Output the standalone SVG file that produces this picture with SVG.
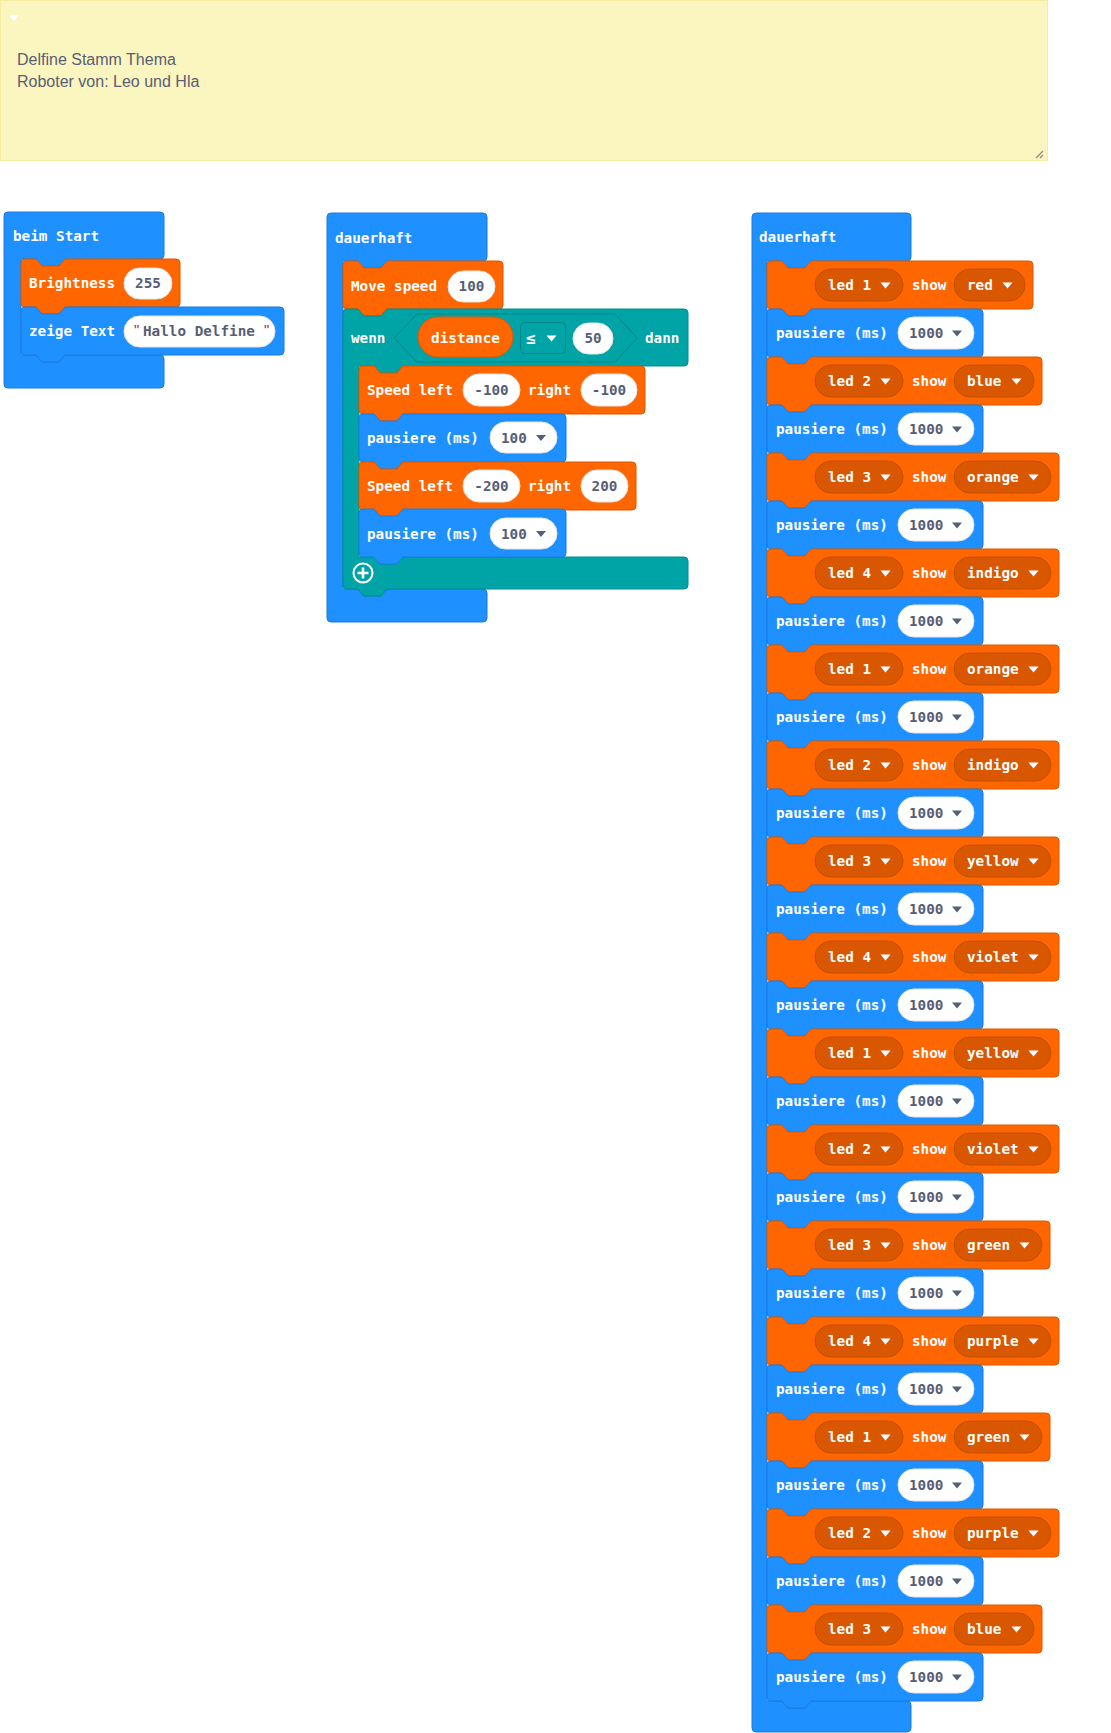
<svg xmlns="http://www.w3.org/2000/svg" xmlns:xlink="http://www.w3.org/1999/xlink" width="1111" height="1733" viewBox="0 0 1111 1733">
<style>
.b{fill:#1E90FF;stroke:#1A7BE0;stroke-width:1}
.o{fill:#FF6600;stroke:#DB5800;stroke-width:1}
.t{fill:#00A4A6;stroke:#008C8E;stroke-width:1}
.dd{fill:#D95700;stroke:#C24E00;stroke-width:1}
.wp{fill:#FFFFFF;stroke:#E4E4E4;stroke-width:1}
.l{font-family:"DejaVu Sans Mono","Liberation Mono",monospace;font-weight:bold;font-size:14.3px;fill:#FFFFFF}
.v{font-family:"DejaVu Sans Mono","Liberation Mono",monospace;font-weight:bold;font-size:14.3px;fill:#575E75}
.c{text-anchor:middle}
.q{font-family:"Liberation Sans",sans-serif;font-size:15px;fill:#A3311E}
.cm{font-family:"Liberation Sans",Arial,sans-serif;font-size:16px;fill:#575E75}
</style>
<defs>
<path id="arr" d="M0,0 h10 l-5,6 z"/>
<path id="s266" d="M0,4 Q0,0 4,0 H15 L21,7 H38 L44,0 H262 Q266,0 266,4 V44 Q266,48 262,48 H44 L38,55 H21 L15,48 H4 Q0,48 0,44 Z"/>
<path id="s275" d="M0,4 Q0,0 4,0 H15 L21,7 H38 L44,0 H271 Q275,0 275,4 V44 Q275,48 271,48 H44 L38,55 H21 L15,48 H4 Q0,48 0,44 Z"/>
<path id="s283" d="M0,4 Q0,0 4,0 H15 L21,7 H38 L44,0 H279 Q283,0 283,4 V44 Q283,48 279,48 H44 L38,55 H21 L15,48 H4 Q0,48 0,44 Z"/>
<path id="s292" d="M0,4 Q0,0 4,0 H15 L21,7 H38 L44,0 H288 Q292,0 292,4 V44 Q292,48 288,48 H44 L38,55 H21 L15,48 H4 Q0,48 0,44 Z"/>
<path id="s216" d="M0,4 Q0,0 4,0 H15 L21,7 H38 L44,0 H212 Q216,0 216,4 V44 Q216,48 212,48 H44 L38,55 H21 L15,48 H4 Q0,48 0,44 Z"/>
<path id="s160" d="M0,4 Q0,0 4,0 H15 L21,7 H38 L44,0 H156 Q160,0 160,4 V44 Q160,48 156,48 H44 L38,55 H21 L15,48 H4 Q0,48 0,44 Z"/>
<path id="s286" d="M0,4 Q0,0 4,0 H15 L21,7 H38 L44,0 H282 Q286,0 286,4 V44 Q286,48 282,48 H44 L38,55 H21 L15,48 H4 Q0,48 0,44 Z"/>
<path id="s277" d="M0,4 Q0,0 4,0 H15 L21,7 H38 L44,0 H273 Q277,0 277,4 V44 Q277,48 273,48 H44 L38,55 H21 L15,48 H4 Q0,48 0,44 Z"/>
<path id="s207" d="M0,4 Q0,0 4,0 H15 L21,7 H38 L44,0 H203 Q207,0 207,4 V44 Q207,48 203,48 H44 L38,55 H21 L15,48 H4 Q0,48 0,44 Z"/>
<path id="s159" d="M0,4 Q0,0 4,0 H15 L21,7 H38 L44,0 H155 Q159,0 159,4 V44 Q159,48 155,48 H44 L38,55 H21 L15,48 H4 Q0,48 0,44 Z"/>
<path id="s263" d="M0,4 Q0,0 4,0 H15 L21,7 H38 L44,0 H259 Q263,0 263,4 V44 Q263,48 259,48 H44 L38,55 H21 L15,48 H4 Q0,48 0,44 Z"/>
</defs>

<g id="comment">
<rect x="0.5" y="0.5" width="1047" height="160" fill="#FBF6BF" stroke="#F6EC9E"/>
<path d="M9,15 H19 L14,21 Z" fill="#FFFFFF"/>
<text x="17" y="65" class="cm">Delfine Stamm Thema</text>
<text x="17" y="87" class="cm">Roboter von: Leo und Hla</text>
<path d="M1036,158 L1043,151 M1040,158 L1043,155" stroke="#8A8A8A" stroke-width="1.2" fill="none"/>
</g>

<g id="connectors"></g>

<g id="beim-start">
<path class="b" d="M4,216 Q4,212 8,212 H160 Q164,212 164,216 V255 Q164,259 160,259 H65 L59,266 H42 L36,259 H21 V355 H36 L42,362 H59 L65,355 H160 Q164,355 164,359 V384 Q164,388 160,388 H8 Q4,388 4,384 Z"/>
<text x="13" y="241" class="l">beim Start</text>
</g>
<g id="brightness" transform="translate(21,259)">
<use href="#s159" class="o"/>
<text x="8" y="29" class="l">Brightness</text>
<rect x="103" y="9" width="48" height="31" rx="15.5" class="wp"/>
<text x="127" y="29" class="v c">255</text>
</g>
<g id="zeige-text" transform="translate(21,307)">
<use href="#s263" class="b"/>
<text x="8" y="29" class="l">zeige Text</text>
<rect x="103" y="9" width="151" height="31" rx="15.5" class="wp"/>
<text x="113" y="28" class="q">"</text>
<text x="122" y="29" class="v">Hallo Delfine</text>
<text x="243" y="28" class="q">"</text>
</g>

<g id="dauerhaft-1">
<path class="b" d="M327,217 Q327,213 331,213 H483 Q487,213 487,217 V257 Q487,261 483,261 H387 L381,268 H364 L358,261 H343 V589 H358 L364,596 H381 L387,589 H483 Q487,589 487,593 V618 Q487,622 483,622 H331 Q327,622 327,618 Z"/>
<text x="335" y="243" class="l">dauerhaft</text>
</g>
<g id="move-speed" transform="translate(343,261)">
<use href="#s160" class="o"/>
<text x="8" y="30" class="l">Move speed</text>
<rect x="105" y="10" width="47" height="31" rx="15.5" class="wp"/>
<text x="128.5" y="30" class="v c">100</text>
</g>
<g id="wenn">
<path class="t" d="M343,313 Q343,309 347,309 H358 L364,316 H381 L387,309 H684 Q688,309 688,313 V362 Q688,366 684,366 H403 L397,373 H380 L374,366 H359 V557 H374 L380,564 H397 L403,557 H684 Q688,557 688,561 V585 Q688,589 684,589 H387 L381,596 H364 L358,589 H347 Q343,589 343,585 Z"/>
<text x="351" y="343" class="l">wenn</text>
<path d="M394,338 L417,314 H615 L637,338 L615,362 H417 Z" fill="#00A4A6" stroke="#008385" stroke-width="1"/>
<rect x="418" y="317" width="95" height="40" rx="20" class="o"/>
<text x="465.5" y="343" class="l c">distance</text>
<rect x="520.5" y="322.5" width="45" height="31" rx="4" fill="#00A4A6" stroke="#008385"/>
<text x="526" y="344" class="l" style="font-size:16px">≤</text>
<use href="#arr" x="546.5" y="335.5" fill="#FFFFFF"/>
<rect x="573" y="323" width="40" height="31" rx="15.5" class="wp"/>
<text x="593" y="343" class="v c">50</text>
<text x="645" y="343" class="l">dann</text>
<circle cx="363" cy="573" r="9.5" fill="none" stroke="#FFFFFF" stroke-width="2"/>
<path d="M357.5,573 H368.5 M363,567.5 V578.5" stroke="#FFFFFF" stroke-width="2.6"/>
</g>
<g id="speed-1" transform="translate(359,366)">
<use href="#s286" class="o"/>
<text x="8" y="29" class="l">Speed left</text>
<rect x="104" y="8" width="57" height="32" rx="16" class="wp"/>
<text x="132.5" y="29" class="v c">-100</text>
<text x="169" y="29" class="l">right</text>
<rect x="222" y="8" width="56" height="32" rx="16" class="wp"/>
<text x="250" y="29" class="v c">-100</text>
</g>
<g id="pause-m1" transform="translate(359,414)">
<use href="#s207" class="b"/>
<text x="8" y="29" class="l">pausiere (ms)</text>
<rect x="131" y="8" width="67" height="31" rx="15.5" class="wp"/>
<text x="142" y="29" class="v">100</text>
<use href="#arr" x="177" y="21" fill="#575E75"/>
</g>
<g id="speed-2" transform="translate(359,462)">
<use href="#s277" class="o"/>
<text x="8" y="29" class="l">Speed left</text>
<rect x="104" y="8" width="57" height="32" rx="16" class="wp"/>
<text x="132.5" y="29" class="v c">-200</text>
<text x="169" y="29" class="l">right</text>
<rect x="222" y="8" width="47" height="32" rx="16" class="wp"/>
<text x="245.5" y="29" class="v c">200</text>
</g>
<g id="pause-m2" transform="translate(359,509)">
<use href="#s207" class="b"/>
<text x="8" y="30" class="l">pausiere (ms)</text>
<rect x="131" y="9" width="67" height="31" rx="15.5" class="wp"/>
<text x="142" y="30" class="v">100</text>
<use href="#arr" x="177" y="22" fill="#575E75"/>
</g>

<g id="dauerhaft-2">
<path class="b" d="M752,217 Q752,213 756,213 H907 Q911,213 911,217 V257 Q911,261 907,261 H811 L805,268 H788 L782,261 H767 V1701 H782 L788,1708 H805 L811,1701 H907 Q911,1701 911,1705 V1728 Q911,1732 907,1732 H756 Q752,1732 752,1728 Z"/>
<text x="759" y="242" class="l">dauerhaft</text>
</g>

<g id="led-01" transform="translate(767,261)"><use href="#s266" class="o"/><rect x="48" y="8" width="88" height="32" rx="16" class="dd"/><text x="61" y="29" class="l">led 1</text><use href="#arr" x="113.5" y="21.5" fill="#FFFFFF"/><text x="145" y="29" class="l">show</text><rect x="187" y="8" width="71" height="32" rx="16" class="dd"/><text x="200" y="29" class="l">red</text><use href="#arr" x="235.5" y="21.5" fill="#FFFFFF"/></g>
<g id="pause-01" transform="translate(767,309)"><use href="#s216" class="b"/><text x="9" y="29" class="l">pausiere (ms)</text><rect x="131" y="8" width="76" height="32" rx="16" class="wp"/><text x="142" y="29" class="v">1000</text><use href="#arr" x="185" y="21.5" fill="#575E75"/></g>

<g id="led-02" transform="translate(767,357)"><use href="#s275" class="o"/><rect x="48" y="8" width="88" height="32" rx="16" class="dd"/><text x="61" y="29" class="l">led 2</text><use href="#arr" x="113.5" y="21.5" fill="#FFFFFF"/><text x="145" y="29" class="l">show</text><rect x="187" y="8" width="80" height="32" rx="16" class="dd"/><text x="200" y="29" class="l">blue</text><use href="#arr" x="244.5" y="21.5" fill="#FFFFFF"/></g>
<g id="pause-02" transform="translate(767,405)"><use href="#s216" class="b"/><text x="9" y="29" class="l">pausiere (ms)</text><rect x="131" y="8" width="76" height="32" rx="16" class="wp"/><text x="142" y="29" class="v">1000</text><use href="#arr" x="185" y="21.5" fill="#575E75"/></g>

<g id="led-03" transform="translate(767,453)"><use href="#s292" class="o"/><rect x="48" y="8" width="88" height="32" rx="16" class="dd"/><text x="61" y="29" class="l">led 3</text><use href="#arr" x="113.5" y="21.5" fill="#FFFFFF"/><text x="145" y="29" class="l">show</text><rect x="187" y="8" width="97" height="32" rx="16" class="dd"/><text x="200" y="29" class="l">orange</text><use href="#arr" x="261.5" y="21.5" fill="#FFFFFF"/></g>
<g id="pause-03" transform="translate(767,501)"><use href="#s216" class="b"/><text x="9" y="29" class="l">pausiere (ms)</text><rect x="131" y="8" width="76" height="32" rx="16" class="wp"/><text x="142" y="29" class="v">1000</text><use href="#arr" x="185" y="21.5" fill="#575E75"/></g>

<g id="led-04" transform="translate(767,549)"><use href="#s292" class="o"/><rect x="48" y="8" width="88" height="32" rx="16" class="dd"/><text x="61" y="29" class="l">led 4</text><use href="#arr" x="113.5" y="21.5" fill="#FFFFFF"/><text x="145" y="29" class="l">show</text><rect x="187" y="8" width="97" height="32" rx="16" class="dd"/><text x="200" y="29" class="l">indigo</text><use href="#arr" x="261.5" y="21.5" fill="#FFFFFF"/></g>
<g id="pause-04" transform="translate(767,597)"><use href="#s216" class="b"/><text x="9" y="29" class="l">pausiere (ms)</text><rect x="131" y="8" width="76" height="32" rx="16" class="wp"/><text x="142" y="29" class="v">1000</text><use href="#arr" x="185" y="21.5" fill="#575E75"/></g>

<g id="led-05" transform="translate(767,645)"><use href="#s292" class="o"/><rect x="48" y="8" width="88" height="32" rx="16" class="dd"/><text x="61" y="29" class="l">led 1</text><use href="#arr" x="113.5" y="21.5" fill="#FFFFFF"/><text x="145" y="29" class="l">show</text><rect x="187" y="8" width="97" height="32" rx="16" class="dd"/><text x="200" y="29" class="l">orange</text><use href="#arr" x="261.5" y="21.5" fill="#FFFFFF"/></g>
<g id="pause-05" transform="translate(767,693)"><use href="#s216" class="b"/><text x="9" y="29" class="l">pausiere (ms)</text><rect x="131" y="8" width="76" height="32" rx="16" class="wp"/><text x="142" y="29" class="v">1000</text><use href="#arr" x="185" y="21.5" fill="#575E75"/></g>

<g id="led-06" transform="translate(767,741)"><use href="#s292" class="o"/><rect x="48" y="8" width="88" height="32" rx="16" class="dd"/><text x="61" y="29" class="l">led 2</text><use href="#arr" x="113.5" y="21.5" fill="#FFFFFF"/><text x="145" y="29" class="l">show</text><rect x="187" y="8" width="97" height="32" rx="16" class="dd"/><text x="200" y="29" class="l">indigo</text><use href="#arr" x="261.5" y="21.5" fill="#FFFFFF"/></g>
<g id="pause-06" transform="translate(767,789)"><use href="#s216" class="b"/><text x="9" y="29" class="l">pausiere (ms)</text><rect x="131" y="8" width="76" height="32" rx="16" class="wp"/><text x="142" y="29" class="v">1000</text><use href="#arr" x="185" y="21.5" fill="#575E75"/></g>

<g id="led-07" transform="translate(767,837)"><use href="#s292" class="o"/><rect x="48" y="8" width="88" height="32" rx="16" class="dd"/><text x="61" y="29" class="l">led 3</text><use href="#arr" x="113.5" y="21.5" fill="#FFFFFF"/><text x="145" y="29" class="l">show</text><rect x="187" y="8" width="97" height="32" rx="16" class="dd"/><text x="200" y="29" class="l">yellow</text><use href="#arr" x="261.5" y="21.5" fill="#FFFFFF"/></g>
<g id="pause-07" transform="translate(767,885)"><use href="#s216" class="b"/><text x="9" y="29" class="l">pausiere (ms)</text><rect x="131" y="8" width="76" height="32" rx="16" class="wp"/><text x="142" y="29" class="v">1000</text><use href="#arr" x="185" y="21.5" fill="#575E75"/></g>

<g id="led-08" transform="translate(767,933)"><use href="#s292" class="o"/><rect x="48" y="8" width="88" height="32" rx="16" class="dd"/><text x="61" y="29" class="l">led 4</text><use href="#arr" x="113.5" y="21.5" fill="#FFFFFF"/><text x="145" y="29" class="l">show</text><rect x="187" y="8" width="97" height="32" rx="16" class="dd"/><text x="200" y="29" class="l">violet</text><use href="#arr" x="261.5" y="21.5" fill="#FFFFFF"/></g>
<g id="pause-08" transform="translate(767,981)"><use href="#s216" class="b"/><text x="9" y="29" class="l">pausiere (ms)</text><rect x="131" y="8" width="76" height="32" rx="16" class="wp"/><text x="142" y="29" class="v">1000</text><use href="#arr" x="185" y="21.5" fill="#575E75"/></g>

<g id="led-09" transform="translate(767,1029)"><use href="#s292" class="o"/><rect x="48" y="8" width="88" height="32" rx="16" class="dd"/><text x="61" y="29" class="l">led 1</text><use href="#arr" x="113.5" y="21.5" fill="#FFFFFF"/><text x="145" y="29" class="l">show</text><rect x="187" y="8" width="97" height="32" rx="16" class="dd"/><text x="200" y="29" class="l">yellow</text><use href="#arr" x="261.5" y="21.5" fill="#FFFFFF"/></g>
<g id="pause-09" transform="translate(767,1077)"><use href="#s216" class="b"/><text x="9" y="29" class="l">pausiere (ms)</text><rect x="131" y="8" width="76" height="32" rx="16" class="wp"/><text x="142" y="29" class="v">1000</text><use href="#arr" x="185" y="21.5" fill="#575E75"/></g>

<g id="led-10" transform="translate(767,1125)"><use href="#s292" class="o"/><rect x="48" y="8" width="88" height="32" rx="16" class="dd"/><text x="61" y="29" class="l">led 2</text><use href="#arr" x="113.5" y="21.5" fill="#FFFFFF"/><text x="145" y="29" class="l">show</text><rect x="187" y="8" width="97" height="32" rx="16" class="dd"/><text x="200" y="29" class="l">violet</text><use href="#arr" x="261.5" y="21.5" fill="#FFFFFF"/></g>
<g id="pause-10" transform="translate(767,1173)"><use href="#s216" class="b"/><text x="9" y="29" class="l">pausiere (ms)</text><rect x="131" y="8" width="76" height="32" rx="16" class="wp"/><text x="142" y="29" class="v">1000</text><use href="#arr" x="185" y="21.5" fill="#575E75"/></g>

<g id="led-11" transform="translate(767,1221)"><use href="#s283" class="o"/><rect x="48" y="8" width="88" height="32" rx="16" class="dd"/><text x="61" y="29" class="l">led 3</text><use href="#arr" x="113.5" y="21.5" fill="#FFFFFF"/><text x="145" y="29" class="l">show</text><rect x="187" y="8" width="88" height="32" rx="16" class="dd"/><text x="200" y="29" class="l">green</text><use href="#arr" x="252.5" y="21.5" fill="#FFFFFF"/></g>
<g id="pause-11" transform="translate(767,1269)"><use href="#s216" class="b"/><text x="9" y="29" class="l">pausiere (ms)</text><rect x="131" y="8" width="76" height="32" rx="16" class="wp"/><text x="142" y="29" class="v">1000</text><use href="#arr" x="185" y="21.5" fill="#575E75"/></g>

<g id="led-12" transform="translate(767,1317)"><use href="#s292" class="o"/><rect x="48" y="8" width="88" height="32" rx="16" class="dd"/><text x="61" y="29" class="l">led 4</text><use href="#arr" x="113.5" y="21.5" fill="#FFFFFF"/><text x="145" y="29" class="l">show</text><rect x="187" y="8" width="97" height="32" rx="16" class="dd"/><text x="200" y="29" class="l">purple</text><use href="#arr" x="261.5" y="21.5" fill="#FFFFFF"/></g>
<g id="pause-12" transform="translate(767,1365)"><use href="#s216" class="b"/><text x="9" y="29" class="l">pausiere (ms)</text><rect x="131" y="8" width="76" height="32" rx="16" class="wp"/><text x="142" y="29" class="v">1000</text><use href="#arr" x="185" y="21.5" fill="#575E75"/></g>

<g id="led-13" transform="translate(767,1413)"><use href="#s283" class="o"/><rect x="48" y="8" width="88" height="32" rx="16" class="dd"/><text x="61" y="29" class="l">led 1</text><use href="#arr" x="113.5" y="21.5" fill="#FFFFFF"/><text x="145" y="29" class="l">show</text><rect x="187" y="8" width="88" height="32" rx="16" class="dd"/><text x="200" y="29" class="l">green</text><use href="#arr" x="252.5" y="21.5" fill="#FFFFFF"/></g>
<g id="pause-13" transform="translate(767,1461)"><use href="#s216" class="b"/><text x="9" y="29" class="l">pausiere (ms)</text><rect x="131" y="8" width="76" height="32" rx="16" class="wp"/><text x="142" y="29" class="v">1000</text><use href="#arr" x="185" y="21.5" fill="#575E75"/></g>

<g id="led-14" transform="translate(767,1509)"><use href="#s292" class="o"/><rect x="48" y="8" width="88" height="32" rx="16" class="dd"/><text x="61" y="29" class="l">led 2</text><use href="#arr" x="113.5" y="21.5" fill="#FFFFFF"/><text x="145" y="29" class="l">show</text><rect x="187" y="8" width="97" height="32" rx="16" class="dd"/><text x="200" y="29" class="l">purple</text><use href="#arr" x="261.5" y="21.5" fill="#FFFFFF"/></g>
<g id="pause-14" transform="translate(767,1557)"><use href="#s216" class="b"/><text x="9" y="29" class="l">pausiere (ms)</text><rect x="131" y="8" width="76" height="32" rx="16" class="wp"/><text x="142" y="29" class="v">1000</text><use href="#arr" x="185" y="21.5" fill="#575E75"/></g>

<g id="led-15" transform="translate(767,1605)"><use href="#s275" class="o"/><rect x="48" y="8" width="88" height="32" rx="16" class="dd"/><text x="61" y="29" class="l">led 3</text><use href="#arr" x="113.5" y="21.5" fill="#FFFFFF"/><text x="145" y="29" class="l">show</text><rect x="187" y="8" width="80" height="32" rx="16" class="dd"/><text x="200" y="29" class="l">blue</text><use href="#arr" x="244.5" y="21.5" fill="#FFFFFF"/></g>
<g id="pause-15" transform="translate(767,1653)"><use href="#s216" class="b"/><text x="9" y="29" class="l">pausiere (ms)</text><rect x="131" y="8" width="76" height="32" rx="16" class="wp"/><text x="142" y="29" class="v">1000</text><use href="#arr" x="185" y="21.5" fill="#575E75"/></g>
</svg>
